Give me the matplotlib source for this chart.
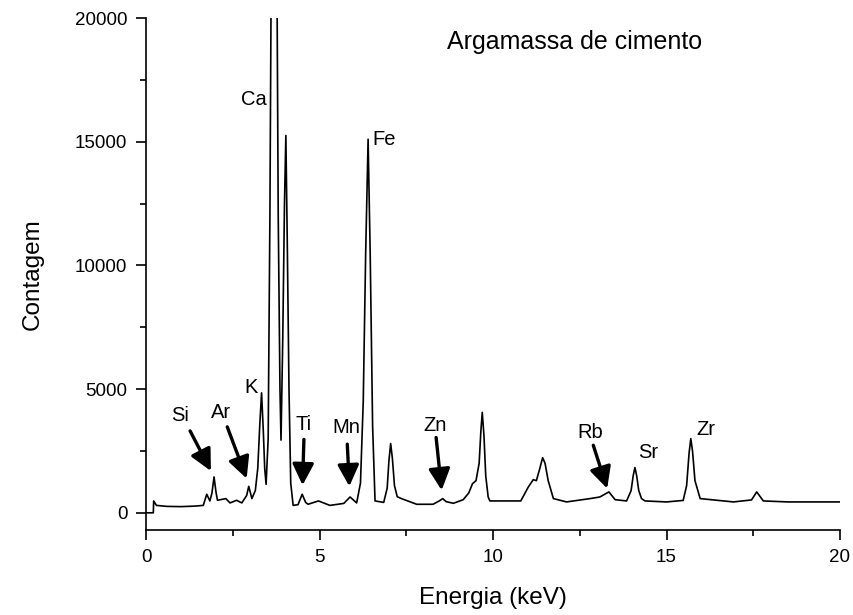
import matplotlib.pyplot as plt
from matplotlib.ticker import MultipleLocator

plt.rcParams['font.family'] = ['Liberation Sans', 'DejaVu Sans']

# Espectro (energia em keV, contagem)
energia = [0.0, 0.21, 0.22, 0.30, 0.6, 1.0, 1.4, 1.65, 1.75, 1.84, 1.90, 1.96, 2.02, 2.06,
           2.30, 2.42, 2.61, 2.76, 2.90, 2.96, 3.01, 3.05, 3.15, 3.22, 3.28, 3.33, 3.38, 3.42,
           3.46, 3.52, 3.57, 3.62, 3.69, 3.76, 3.81, 3.86, 3.89, 3.94, 3.99, 4.03, 4.07, 4.12,
           4.17, 4.24, 4.38, 4.50, 4.60, 4.67, 4.97, 5.30, 5.70, 5.88, 6.07, 6.18, 6.26, 6.33,
           6.40, 6.46, 6.53, 6.60, 6.85, 6.95, 7.00, 7.05, 7.10, 7.16, 7.24, 7.36, 7.80, 8.27,
           8.45, 8.55, 8.65, 8.86, 9.14, 9.30, 9.41, 9.51, 9.60, 9.65, 9.69, 9.74, 9.79, 9.86,
           9.91, 10.1, 10.8, 11.02, 11.16, 11.25, 11.35, 11.43, 11.50, 11.59, 11.74, 12.12, 12.80,
           13.08, 13.34, 13.52, 13.85, 13.98, 14.04, 14.09, 14.14, 14.20, 14.28, 14.38, 15.0,
           15.48, 15.58, 15.65, 15.70, 15.75, 15.82, 15.97, 16.93, 17.45, 17.60, 17.79, 18.5,
           19.2, 20.0]
contagem = [0, 0, 480, 300, 260, 250, 270, 300, 750, 480, 800, 1450, 800, 506,
            575, 400, 506, 400, 700, 1070, 800, 575, 900, 1800, 3600, 4850, 3300, 1800,
            1150, 3000, 12000, 25000, 40000, 25000, 12000, 5000, 2940, 7000, 12500, 15250, 11000, 5000,
            1200, 300, 330, 750, 420, 345, 480, 300, 380, 640, 400, 1200, 4500, 10500,
            15100, 10500, 3500, 480, 420, 1000, 2100, 2800, 2200, 1100, 650, 575, 345, 345,
            480, 575, 450, 385, 530, 800, 1180, 1300, 2000, 3300, 4060, 3100, 1500, 640,
            480, 480, 480, 1050, 1340, 1300, 1800, 2230, 2000, 1300, 575, 440, 575,
            640, 845, 530, 480, 900, 1500, 1830, 1500, 900, 575, 480, 440,
            500, 1100, 2400, 3000, 2500, 1300, 575, 440, 520, 845, 480, 440,
            440, 440]

# Rótulos dos elementos: (texto, x, y, alinhamento)
rotulos = [('Ca', 3.48, 16700, 'right'), ('Fe', 6.52, 15100, 'left'), ('K', 3.03, 5050, 'center'),
           ('Si', 0.98, 3950, 'center'), ('Ar', 2.16, 4070, 'center'), ('Ti', 4.55, 3580, 'center'),
           ('Mn', 5.76, 3460, 'center'), ('Zn', 8.33, 3540, 'center'), ('Rb', 12.8, 3260, 'center'),
           ('Sr', 14.47, 2450, 'center'), ('Zr', 16.14, 3380, 'center')]

# Setas: (x cauda, y cauda, x ponta, y ponta)
setas = [(1.27, 3310, 1.87, 1690), (2.34, 3475, 2.90, 1385), (4.55, 2965, 4.51, 1115),
         (5.80, 2775, 5.86, 1070), (8.36, 3045, 8.52, 910), (12.89, 2730, 13.29, 980)]

fig = plt.figure(figsize=(8.54, 6.15), dpi=100)
ax = fig.add_axes([0.171, 0.138, 0.8126, 0.8327])

ax.plot(energia, contagem, color='black', lw=1.2)

for txt, x, y, ha in rotulos:
    ax.text(x, y, txt, fontsize=14.5, ha=ha, va='center')

for x0, y0, x1, y1 in setas:
    ax.annotate('', xy=(x1, y1), xytext=(x0, y0),
                arrowprops=dict(arrowstyle='-|>,head_length=1.0,head_width=0.5',
                                mutation_scale=13, lw=2.4, color='black',
                                shrinkA=0, shrinkB=0))

ax.text(12.36, 19050, 'Argamassa de cimento', fontsize=18, ha='center', va='center')

ax.set_xlim(0, 20)
ax.set_ylim(-700, 20000)
ax.xaxis.set_major_locator(MultipleLocator(5))
ax.xaxis.set_minor_locator(MultipleLocator(2.5))
ax.yaxis.set_major_locator(MultipleLocator(5000))
ax.yaxis.set_minor_locator(MultipleLocator(2500))
ax.spines['top'].set_visible(False)
ax.spines['right'].set_visible(False)
ax.spines['left'].set_linewidth(1.2)
ax.spines['bottom'].set_linewidth(1.2)
ax.tick_params(which='major', direction='out', length=7, width=1.2, labelsize=13.5, pad=6.5)
ax.tick_params(which='minor', direction='out', length=4, width=1.2)

ax.set_xlabel('Energia (keV)', fontsize=17.5, labelpad=15)
ax.set_ylabel('Contagem', fontsize=17.5, labelpad=22)

fig.savefig('out.png', dpi=100)
